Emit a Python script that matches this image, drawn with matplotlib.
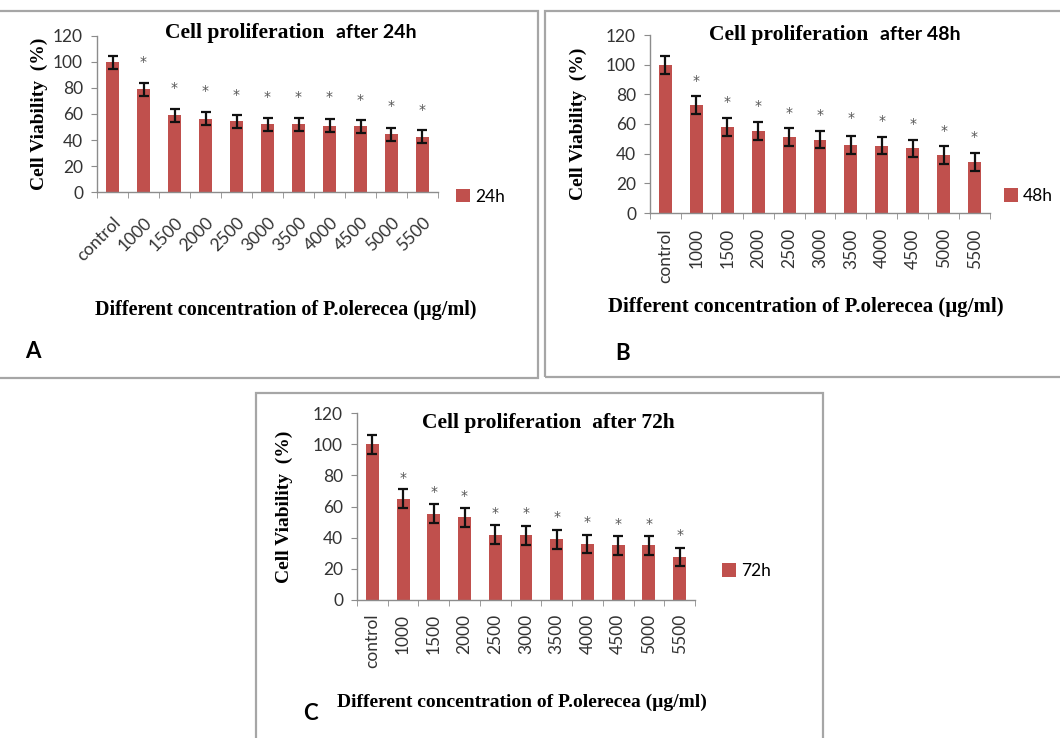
import matplotlib
matplotlib.use('Agg')
import matplotlib.pyplot as plt
from matplotlib.patches import Rectangle

# Data
categories = ['control', '1000', '1500', '2000', '2500', '3000', '3500', '4000', '4500', '5000', '5500']

viability_24h = [100, 79, 59, 56.5, 54.5, 52, 52, 51, 50.5, 44.5, 42.5]
error_24h = [5, 5, 5, 5, 5, 5, 5, 5, 5, 5, 5]
stars_24h = [None, 100, 80, 78, 75, 73, 73, 73, 71, 66, 63]

viability_48h = [100, 73, 58, 55.5, 51, 49.5, 46, 45.5, 43.5, 39, 34.5]
error_48h = [6, 6, 6, 6, 6, 6, 6, 6, 6, 6, 6]
stars_48h = [None, 89, 75, 72, 67.5, 66, 64, 62, 60, 55, 51]

viability_72h = [100, 65, 55.5, 53, 42, 41.5, 39, 36, 35, 35, 27.5]
error_72h = [6, 6, 6, 6, 6, 6, 6, 6, 6, 6, 6]
stars_72h = [None, 78.5, 69, 67, 56, 56, 53, 50, 48.5, 48.5, 41.5]

W, H = 1060, 738
bar_color = '#c0504d'
serif = 'Liberation Serif'
sans = 'Lato'
xlabel = 'Different concentration of P.olerecea (\u00b5g/ml)'

fig = plt.figure(figsize=(W / 100, H / 100), dpi=100)


def fx(x):
    return x / W


def fy(y):
    return 1 - y / H


def panel_box(x0, y0, x1, y1):
    fig.patches.append(Rectangle((fx(x0), fy(y1)), fx(x1 - x0), (y1 - y0) / H,
                                 transform=fig.transFigure, fill=False,
                                 edgecolor='#a6a6a6', linewidth=1.6))


def bar_panel(left, right, y0, y120, values, errors, stars, legend_label, rot, xpad, leg_xy, ylab_x):
    ax = fig.add_axes([fx(left), fy(y0), fx(right - left), (y0 - y120) / H])
    x = list(range(len(categories)))
    ax.bar(x, values, width=0.42, color=bar_color, yerr=errors,
           error_kw=dict(ecolor='#111111', elinewidth=1.6, capsize=3.5, capthick=1.6),
           label=legend_label)
    for i, s in enumerate(stars):
        if s is not None:
            ax.text(i, s, '*', ha='center', va='center', fontsize=10, color='#555555')
    ax.set_xlim(-0.5, len(categories) - 0.5)
    ax.set_ylim(0, 120)
    ax.set_yticks(range(0, 121, 20))
    for sp in ['top', 'right']:
        ax.spines[sp].set_visible(False)
    for sp in ['left', 'bottom']:
        ax.spines[sp].set_color('#8c8c8c')
        ax.spines[sp].set_linewidth(1.0)
    ax.tick_params(axis='y', length=4, color='#8c8c8c', labelsize=12.5, labelcolor='#333333', pad=6)
    ax.set_xticks(x)
    ax.set_xticks([i - 0.5 for i in range(len(categories) + 1)], minor=True)
    ax.tick_params(axis='x', which='major', length=0, labelsize=12.5, labelcolor='#333333', pad=xpad)
    ax.tick_params(axis='x', which='minor', length=4, color='#8c8c8c')
    if rot == 45:
        ax.set_xticklabels(categories, rotation=45, ha='right', rotation_mode='anchor')
    else:
        ax.set_xticklabels(categories, rotation=90, ha='center')
    for lab in ax.get_xticklabels() + ax.get_yticklabels():
        lab.set_family(sans)
    ax.set_ylabel('Cell Viability  (%)', family=serif, fontweight='bold', fontsize=14)
    ax.yaxis.set_label_coords(ylab_x, 0.5)
    ax.legend(loc='center left', bbox_to_anchor=leg_xy, frameon=False,
              handlelength=0.8, handleheight=0.8, handletextpad=0.3,
              prop={'family': sans, 'size': 12.5})
    return ax


# panel borders
panel_box(-2, 11, 538, 378)
panel_box(545, 11, 1062, 377)
panel_box(256, 393, 823, 745)

# A
axA = bar_panel(97, 438, 192, 36, viability_24h, error_24h, stars_24h, '24h', 45,
                16, (1.007, -0.03), -0.145)
fig.text(fx(324), fy(33), 'Cell proliferation', family=serif, fontweight='bold', fontsize=15.5,
         ha='right', va='center')
fig.text(fx(336), fy(33), 'after 24h', family=sans, fontweight='bold', fontsize=14,
         ha='left', va='center')
fig.text(fx(286), fy(310), xlabel, family=serif, fontweight='bold', fontsize=14.5,
         ha='center', va='center')
fig.text(fx(25), fy(352), 'A', family=sans, fontweight='bold', fontsize=16, ha='left', va='center')

# B
axB = bar_panel(650, 990, 213, 35, viability_48h, error_48h, stars_48h, '48h', 90,
                11, (0.995, 0.095), -0.185)
fig.text(fx(868), fy(35), 'Cell proliferation', family=serif, fontweight='bold', fontsize=15.5,
         ha='right', va='center')
fig.text(fx(880), fy(35), 'after 48h', family=sans, fontweight='bold', fontsize=14,
         ha='left', va='center')
fig.text(fx(806), fy(307), xlabel, family=serif, fontweight='bold', fontsize=15,
         ha='center', va='center')
fig.text(fx(615), fy(353), 'B', family=sans, fontweight='bold', fontsize=16, ha='left', va='center')

# C
axC = bar_panel(357, 695, 600, 413, viability_72h, error_72h, stars_72h, '72h', 90,
                10, (1.034, 0.155), -0.19)
fig.text(fx(548), fy(423), 'Cell proliferation  after 72h', family=serif, fontweight='bold',
         fontsize=15.5, ha='center', va='center')
fig.text(fx(522), fy(702), xlabel, family=serif, fontweight='bold', fontsize=14,
         ha='center', va='center')
fig.text(fx(303), fy(713), 'C', family=sans, fontweight='bold', fontsize=16, ha='left', va='center')

fig.savefig('out.png', dpi=100, facecolor='white')
